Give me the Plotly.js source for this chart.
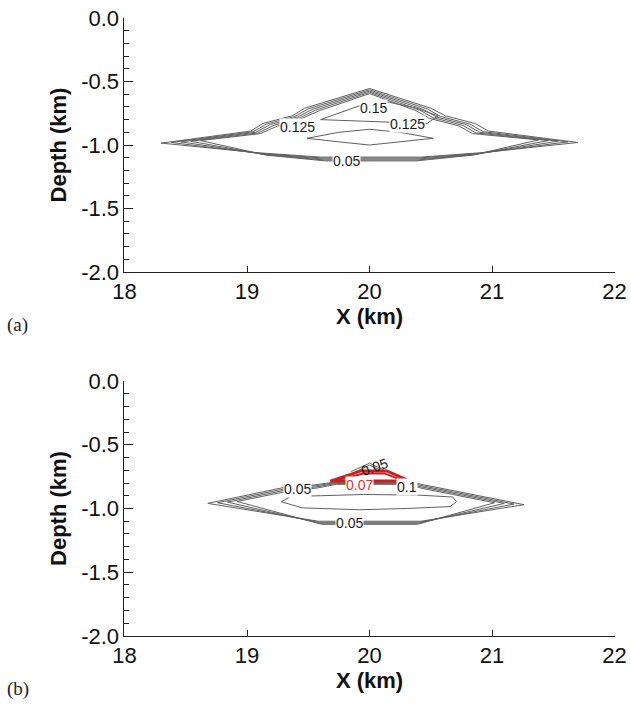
<!DOCTYPE html>
<html><head><meta charset="utf-8">
<script src="https://cdn.plot.ly/plotly-3.0.1.min.js"></script>
<style>html,body{margin:0;padding:0;background:#fff}#chart{width:631px;height:704px}</style>
</head><body><div id="chart"></div>
<script>
// ---- axis ticks ----
const xTickVals = [18, 19, 20, 21, 22];
const xTickText = ['18', '19', '20', '21', '22'];
const yTickVals = [0, -0.5, -1, -1.5, -2];
const yTickText = ['0.0', '-0.5', '-1.0', '-1.5', '-2.0'];

// ---- panel (a) contour lines (x km, depth km) ----
const a1x = [18.30, 19.03, 19.13, 19.37, 19.47, 20.00, 20.50, 20.62, 20.86, 20.97, 21.70, 20.92, 20.42, 19.60, 19.08, 18.30];
const a1y = [-0.985, -0.89, -0.83, -0.77, -0.71, -0.555, -0.71, -0.77, -0.83, -0.89, -0.98, -1.06, -1.095, -1.095, -1.06, -0.985];
const a2x = [18.38, 19.05, 19.16, 19.39, 19.50, 20.00, 20.47, 20.58, 20.82, 20.93, 21.62, 20.90, 20.41, 19.61, 19.10, 18.38];
const a2y = [-0.98, -0.895, -0.835, -0.775, -0.715, -0.565, -0.715, -0.775, -0.835, -0.895, -0.975, -1.065, -1.102, -1.102, -1.065, -0.98];
const a3x = [18.46, 19.07, 19.19, 19.41, 19.53, 20.00, 20.44, 20.55, 20.79, 20.90, 21.54, 20.88, 20.40, 19.62, 19.12, 18.46];
const a3y = [-0.975, -0.90, -0.84, -0.78, -0.72, -0.575, -0.72, -0.78, -0.84, -0.90, -0.97, -1.07, -1.11, -1.11, -1.07, -0.975];
const a4x = [18.54, 19.09, 19.22, 19.43, 19.56, 20.00, 20.41, 20.52, 20.76, 20.87, 21.46, 20.86, 20.39, 19.63, 19.14, 18.54];
const a4y = [-0.97, -0.905, -0.845, -0.785, -0.725, -0.585, -0.725, -0.785, -0.845, -0.905, -0.965, -1.075, -1.118, -1.118, -1.075, -0.97];
const a5x = [18.62, 19.11, 19.25, 19.45, 19.59, 20.00, 20.38, 20.49, 20.73, 20.84, 21.38, 20.84, 20.38, 19.64, 19.16, 18.62];
const a5y = [-0.965, -0.91, -0.85, -0.79, -0.73, -0.595, -0.73, -0.79, -0.85, -0.91, -0.96, -1.08, -1.125, -1.125, -1.08, -0.965];
const a6x = [19.60, 19.75, 19.95, 20.10, 20.38, 20.56, 20.47, 20.17, 19.60];
const a6y = [-0.80, -0.75, -0.68, -0.65, -0.71, -0.77, -0.83, -0.82, -0.80];
const a7x = [19.49, 19.75, 20.00, 20.25, 20.52, 20.25, 20.00, 19.75, 19.49];
const a7y = [-0.947, -0.90, -0.876, -0.90, -0.947, -0.975, -1.00, -0.975, -0.947];

// ---- panel (b) contour lines ----
const b1x = [18.68, 19.30, 19.55, 19.70, 20.35, 20.42, 21.26, 20.42, 19.58, 18.68];
const b1y = [-0.96, -0.835, -0.815, -0.795, -0.795, -0.81, -0.97, -1.10, -1.10, -0.96];
const b2x = [18.76, 19.31, 19.56, 19.71, 20.34, 20.42, 21.18, 20.41, 19.59, 18.76];
const b2y = [-0.955, -0.845, -0.822, -0.80, -0.80, -0.82, -0.965, -1.108, -1.108, -0.955];
const b3x = [18.84, 19.32, 19.57, 19.72, 20.33, 20.42, 21.10, 20.40, 19.60, 18.84];
const b3y = [-0.95, -0.855, -0.83, -0.805, -0.805, -0.83, -0.96, -1.116, -1.116, -0.95];
const b4x = [18.92, 19.33, 19.58, 19.73, 20.32, 20.42, 21.02, 20.39, 19.61, 18.92];
const b4y = [-0.945, -0.865, -0.838, -0.81, -0.81, -0.84, -0.955, -1.124, -1.124, -0.945];
const b5x = [19.28, 19.36, 19.60, 19.95, 20.40, 20.68, 20.71, 20.66, 20.30, 19.92, 19.45, 19.28];
const b5y = [-0.947, -0.905, -0.90, -0.89, -0.895, -0.91, -0.945, -0.985, -1.00, -1.01, -0.995, -0.947];
const b6x = [19.85, 20.00, 20.12];
const b6y = [-0.71, -0.645, -0.70];
const b7x = [19.88, 20.00, 20.10];
const b7y = [-0.715, -0.66, -0.705];
const r1x = [19.68, 19.93, 20.14, 20.33, 19.68];
const r1y = [-0.785, -0.705, -0.705, -0.785, -0.785];
const r2x = [19.76, 19.95, 20.12, 20.25];
const r2y = [-0.772, -0.725, -0.725, -0.772];

// ---- contour labels ----
const aLabText = ['0.15', '0.125', '0.125', '0.05'];
const aLabX = [20.03, 19.41, 20.31, 19.81];
const aLabY = [-0.709, -0.856, -0.835, -1.126];
const bLabText = ['0.05', '0.1', '0.05'];
const bLabX = [19.41, 20.31, 19.84];
const bLabY = [-0.849, -0.83, -1.114];
const bRedText = ['0.07'];
const bRedX = [19.92];
const bRedY = [-0.815];
const bRotText = ['0.05'];
const bRotX = [20.04];
const bRotY = [-0.675];

const SANS = 'Arial, "Liberation Sans", sans-serif';
const SERIF = '"Times New Roman", "Liberation Serif", serif';
const gray = '#606060';
function ln(x, y, xa, ya, color, w) {
  return {type: 'scatter', mode: 'lines', x: x, y: y, xaxis: xa, yaxis: ya,
    line: {color: color, width: w}, hoverinfo: 'skip', showlegend: false};
}
const traces = [
  ln(a1x, a1y, 'x', 'y', gray, 1), ln(a2x, a2y, 'x', 'y', gray, 1), ln(a3x, a3y, 'x', 'y', gray, 1),
  ln(a4x, a4y, 'x', 'y', gray, 1), ln(a5x, a5y, 'x', 'y', gray, 1), ln(a6x, a6y, 'x', 'y', gray, 1),
  ln(a7x, a7y, 'x', 'y', gray, 1),
  ln(b1x, b1y, 'x2', 'y2', gray, 1), ln(b2x, b2y, 'x2', 'y2', gray, 1), ln(b3x, b3y, 'x2', 'y2', gray, 1),
  ln(b4x, b4y, 'x2', 'y2', gray, 1), ln(b5x, b5y, 'x2', 'y2', gray, 1),
  ln(b6x, b6y, 'x2', 'y2', gray, 1), ln(b7x, b7y, 'x2', 'y2', gray, 1),
  ln(r1x, r1y, 'x2', 'y2', '#cc1f1f', 3), ln(r2x, r2y, 'x2', 'y2', '#cc1f1f', 2)
];

const labFont = {family: SANS, size: 14, color: '#1a1a1a'};
const annotations = [];
aLabText.forEach((t, i) => annotations.push({x: aLabX[i], y: aLabY[i], xref: 'x', yref: 'y', text: t,
  showarrow: false, font: labFont, bgcolor: 'white', borderpad: 0}));
bLabText.forEach((t, i) => annotations.push({x: bLabX[i], y: bLabY[i], xref: 'x2', yref: 'y2', text: t,
  showarrow: false, font: labFont, bgcolor: 'white', borderpad: 0}));
bRotText.forEach((t, i) => annotations.push({x: bRotX[i], y: bRotY[i], xref: 'x2', yref: 'y2', text: t,
  showarrow: false, font: labFont, textangle: -20}));
bRedText.forEach((t, i) => annotations.push({x: bRedX[i], y: bRedY[i], xref: 'x2', yref: 'y2', text: t,
  showarrow: false, font: Object.assign({}, labFont, {color: '#e03030'}), bgcolor: 'white', borderpad: 0}));
annotations.push({x: 0.008, y: 1 - 325 / 704, xref: 'paper', yref: 'paper', text: '(a)', showarrow: false,
  xanchor: 'left', yanchor: 'middle', font: {family: SERIF, size: 19, color: '#222'}});
annotations.push({x: 0.008, y: 1 - 689 / 704, xref: 'paper', yref: 'paper', text: '(b)', showarrow: false,
  xanchor: 'left', yanchor: 'middle', font: {family: SERIF, size: 19, color: '#222'}});

const tickFont = {family: SANS, size: 22, color: '#111'};
const titleFont = {family: SANS, size: 22, color: '#111'};
function xax(anchor) {
  return {domain: [0.1973, 0.9739], range: [18, 22], anchor: anchor, tickvals: xTickVals, ticktext: xTickText,
    ticks: 'inside', ticklen: 6, tickcolor: '#222', showline: true, linecolor: '#222', linewidth: 1,
    showgrid: false, zeroline: false, tickfont: tickFont,
    title: {text: '<b>X (km)</b>', font: titleFont, standoff: 2}};
}
function yax(anchor, dom) {
  return {domain: dom, range: [-2, 0], anchor: anchor, tickvals: yTickVals, ticktext: yTickText,
    ticks: 'inside', ticklen: 9, tickcolor: '#222', showline: true, linecolor: '#222', linewidth: 1,
    showgrid: false, zeroline: false, tickfont: tickFont,
    minor: {dtick: 0.1, tick0: 0, ticks: 'inside', ticklen: 5, tickcolor: '#222', showgrid: false},
    title: {text: '<b>Depth (km)</b>', font: titleFont, standoff: 8}};
}
const layout = {
  width: 631, height: 704, margin: {l: 0, r: 0, t: 0, b: 0},
  paper_bgcolor: 'white', plot_bgcolor: 'white', showlegend: false,
  xaxis: xax('y'), yaxis: yax('x', [0.6136, 0.9744]),
  xaxis2: xax('y2'), yaxis2: yax('x2', [0.0966, 0.4588]),
  annotations: annotations
};
Plotly.newPlot('chart', traces, layout, {staticPlot: true});
</script></body></html>
